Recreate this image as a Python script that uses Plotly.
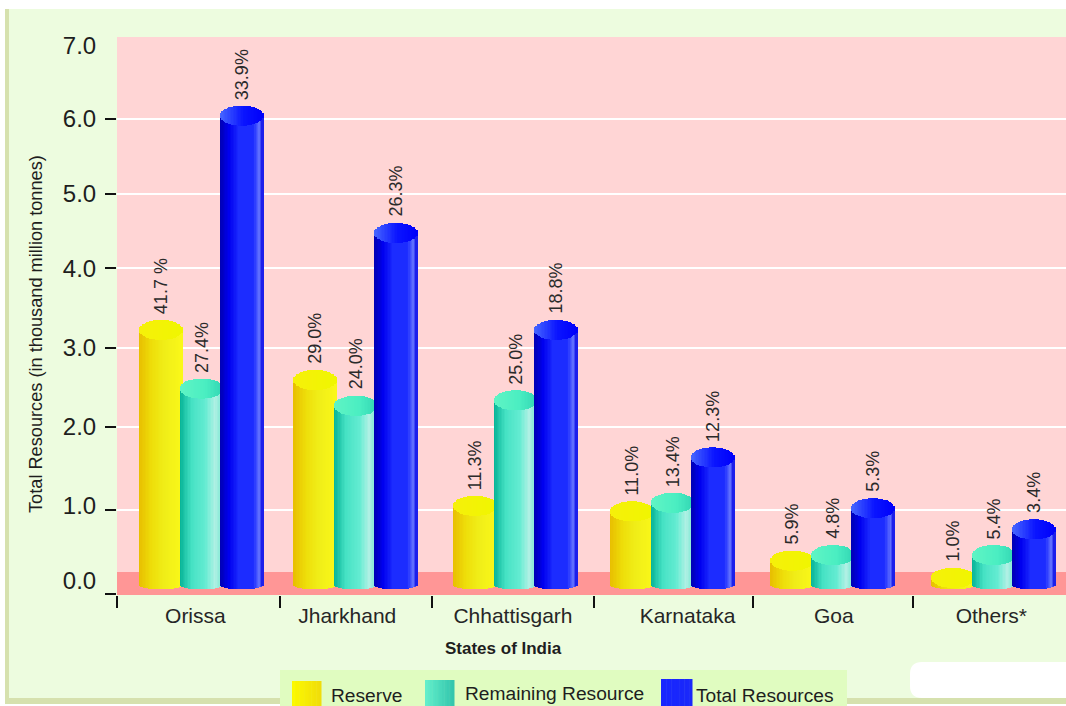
import math
import plotly.graph_objects as go

# Coal resources by state (thousand million tonnes)
states = ["Orissa", "Jharkhand", "Chhattisgarh", "Karnataka", "Goa", "Others*"]
reserve = [3.30, 2.66, 1.05, 0.98, 0.35, 0.13]
remaining = [2.55, 2.33, 2.40, 1.09, 0.42, 0.42]
total = [6.04, 4.54, 3.30, 1.67, 1.02, 0.75]
reserve_pct = ["41.7 %", "29.0%", "11.3%", "11.0%", "5.9%", "1.0%"]
remaining_pct = ["27.4%", "24.0%", "25.0%", "13.4%", "4.8%", "5.4%"]
total_pct = ["33.9%", "26.3%", "18.8%", "12.3%", "5.3%", "3.4%"]

# Group layout along the x axis, in units of one group spacing
group_pos = [0.0, 0.969, 1.975, 2.962, 3.969, 4.981]
label_pos = [-0.035, 0.92, 1.962, 3.06, 3.98, 4.97]
boundary_pos = [-0.528, 0.497, 1.453, 2.472, 3.472, 4.48]
series_offset = [-0.25, 0.006, 0.258]
half_width = 0.135

# Axis ticks and the positions of their labels
grid_pos = [-0.077, 1.0, 2.06, 3.07, 4.09, 5.04, 6.0]
tick_text = ["0.0", "1.0", "2.0", "3.0", "4.0", "5.0", "6.0", "7.0"]
tick_label_pos = [0.10, 1.05, 2.06, 3.07, 4.09, 5.04, 6.0, 6.93]

PX_W = 949.0
PX_H = 558.0
L, T = 117.0, 37.0
Y_LOW, Y_HIGH = -0.0895, 7.046
X_LOW, X_HIGH = -0.528, 5.44
CAP_B = 0.128
FOOT_B = 0.065
FOOT_DROP = 0.018
STRIPS = 30


def lerp_color(stops, t):
    for (a, ca), (b, cb) in zip(stops, stops[1:]):
        if t <= b:
            f = (t - a) / (b - a) if b > a else 0
            return "rgb(%d,%d,%d)" % tuple(round(p + (q - p) * f) for p, q in zip(ca, cb))
    return "rgb(%d,%d,%d)" % stops[-1][1]


yellow_body = [(0, (232, 190, 0)), (0.3, (238, 222, 10)), (0.6, (240, 238, 24)), (1, (250, 248, 24))]
yellow_cap = [(0, (246, 240, 10)), (1, (240, 246, 0))]
teal_body = [(0, (6, 178, 150)), (0.28, (70, 226, 196)), (0.6, (100, 236, 210)), (0.82, (176, 240, 228)), (1, (120, 232, 210))]
teal_cap = [(0, (96, 244, 196)), (0.6, (74, 238, 194)), (1, (50, 214, 180))]
blue_body = [(0, (0, 0, 176)), (0.22, (0, 0, 240)), (0.45, (28, 44, 255)), (0.78, (28, 44, 255)), (0.92, (96, 112, 255)), (1, (10, 10, 230))]
blue_cap = [(0, (72, 104, 255)), (0.55, (10, 20, 255)), (1, (0, 0, 250))]

series = [
    ("Reserve", reserve, reserve_pct, yellow_body, yellow_cap),
    ("Remaining Resource", remaining, remaining_pct, teal_body, teal_cap),
    ("Total Resources", total, total_pct, blue_body, blue_cap),
]

fig = go.Figure()
annotations = []
strip_w = 2 * half_width / STRIPS

for idx, (name, values, pcts, body_stops, cap_stops) in enumerate(series):
    bx, by, bb, bc = [], [], [], []
    cx, cy, cb, cc = [], [], [], []
    for g, v, pct in zip(group_pos, values, pcts):
        centre = g + series_offset[idx]
        for k in range(STRIPS):
            t = (k + 0.5) / STRIPS
            u = 2 * t - 1
            s = math.sqrt(max(0.0, 1 - u * u))
            x = centre + u * half_width
            foot = FOOT_B * (1 - s) - FOOT_DROP
            bx.append(x)
            bb.append(foot)
            by.append(v - foot)
            bc.append(lerp_color(body_stops, t))
            cx.append(x)
            cb.append(v - CAP_B * s)
            cy.append(2 * CAP_B * s)
            cc.append(lerp_color(cap_stops, t))
        annotations.append(dict(
            x=centre, y=v + CAP_B, xref="x", yref="y", text=pct,
            textangle=-90, showarrow=False, yanchor="bottom", xanchor="center", yshift=4,
            font=dict(family="Liberation Sans", size=18, color="#2a2a2a"),
        ))
    fig.add_trace(go.Bar(x=bx, y=by, base=bb, width=strip_w * 1.35, name=name,
                         marker=dict(color=bc, line=dict(width=0)), hoverinfo="skip", showlegend=False))
    fig.add_trace(go.Bar(x=cx, y=cy, base=cb, width=strip_w * 1.35, name=name + " cap",
                         marker=dict(color=cc, line=dict(width=0)), hoverinfo="skip", showlegend=False))

# Carrier trace for the overlaid label axes
fig.add_trace(go.Scatter(x=[0], y=[0], xaxis="x2", yaxis="y2", mode="markers",
                         marker=dict(opacity=0), hoverinfo="skip", showlegend=False))


def px_x(p):
    return (p - L) / PX_W


def px_y(p):
    return 1 - (p - T) / PX_H


def page_rect(x0, y0, x1, y1, color, layer="below"):
    return dict(type="rect", xref="paper", yref="paper", x0=px_x(x0), x1=px_x(x1), y0=px_y(y1), y1=px_y(y0),
                fillcolor=color, line=dict(width=0), layer=layer)


shapes = [
    page_rect(5, 9, 1066, 704, "#d6e1ae"),
    page_rect(9, 9, 1066, 698, "#edfcdf"),
    # Plot panel above the page colour
    page_rect(117, 37, 1066, 595, "#ffd5d5"),
    # Floor band under the columns
    dict(type="rect", xref="paper", yref="y", x0=0, x1=1, y0=Y_LOW, y1=0.205,
         fillcolor="#ff9696", line=dict(width=0), layer="between"),
    # Note panel at lower right
    dict(type="path", xref="paper", yref="paper",
         path="M %f %f L %f %f L %f %f L %f %f Q %f %f %f %f L %f %f Q %f %f %f %f Z" % (
             px_x(1066), px_y(662), px_x(1066), px_y(698), px_x(922), px_y(698), px_x(922), px_y(698),
             px_x(910), px_y(698), px_x(910), px_y(686), px_x(910), px_y(674),
             px_x(910), px_y(662), px_x(922), px_y(662)),
         fillcolor="#ffffff", line=dict(width=0), layer="below"),
    # Key panel
    page_rect(280, 670, 847, 706, "#e0fcc0"),
]

# Key swatches, shaded left to right
swatches = [
    (292, 321, 681, [(0, (252, 250, 0)), (1, (240, 220, 10))]),
    (425, 454, 680, [(0, (100, 240, 204)), (1, (50, 196, 172))]),
    (661, 692, 679, [(0, (24, 38, 255)), (1, (26, 40, 250))]),
]
for x0, x1, top, stops in swatches:
    n = 12
    for k in range(n):
        a = x0 + (x1 - x0) * k / n
        b = x0 + (x1 - x0) * (k + 1) / n + 0.5
        shapes.append(page_rect(a, top, b, 706, lerp_color(stops, (k + 0.5) / n)))

key_text = [("Reserve", 329, 695), ("Remaining Resource", 463, 693), ("Total Resources", 694, 695)]
for text, x, y in key_text:
    annotations.append(dict(text=text, xref="paper", yref="paper", x=px_x(x), y=px_y(y), xanchor="left", yanchor="middle",
                            showarrow=False, font=dict(family="Liberation Sans", size=19.2, color="#1e1e1e")))

annotations.append(dict(text="Total Resources (in thousand million tonnes)", xref="paper", yref="paper",
                        x=px_x(36), y=px_y(334), textangle=-90, showarrow=False, xanchor="center", yanchor="middle",
                        font=dict(family="Liberation Sans", size=18.2, color="#1e1e1e")))
annotations.append(dict(text="<b>States of India</b>", xref="paper", yref="paper",
                        x=px_x(503), y=px_y(648), showarrow=False, xanchor="center", yanchor="middle",
                        font=dict(family="Liberation Sans", size=17, color="#1e1e1e")))

fig.update_layout(
    width=1066, height=706,
    margin=dict(l=117, r=0, t=37, b=111, autoexpand=False),
    paper_bgcolor="#ffffff",
    plot_bgcolor="#ffd5d5",
    barmode="overlay",
    bargap=0,
    showlegend=False,
    shapes=shapes,
    annotations=annotations,
    xaxis=dict(range=[X_LOW, X_HIGH], tickmode="array", tickvals=boundary_pos, ticktext=[""] * 6,
               ticks="outside", ticklen=12, tickwidth=1.5, tickcolor="#111111",
               showgrid=False, zeroline=False, showline=False, fixedrange=True),
    yaxis=dict(range=[Y_LOW, Y_HIGH], tickmode="array", tickvals=grid_pos, ticktext=[""] * 7,
               ticks="outside", ticklen=11, tickwidth=1.5, tickcolor="#111111",
               showgrid=True, gridcolor="#ffffff", gridwidth=1.5,
               zeroline=False, showline=False, fixedrange=True),
    xaxis2=dict(range=[X_LOW, X_HIGH], overlaying="x", anchor="y", side="bottom", tickmode="array",
                tickvals=label_pos, ticktext=states, ticks="outside", ticklen=2, tickcolor="rgba(0,0,0,0)",
                tickfont=dict(family="Liberation Sans", size=21, color="#262626"),
                showgrid=False, zeroline=False, showline=False, fixedrange=True),
    yaxis2=dict(range=[Y_LOW, Y_HIGH], overlaying="y", anchor="x", side="left", tickmode="array",
                tickvals=tick_label_pos, ticktext=tick_text, ticks="outside", ticklen=15, tickcolor="rgba(0,0,0,0)",
                tickfont=dict(family="Liberation Sans", size=24, color="#1e1e1e"),
                showgrid=False, zeroline=False, showline=False, fixedrange=True),
)

fig.write_html("out.html", config=dict(displayModeBar=False))
